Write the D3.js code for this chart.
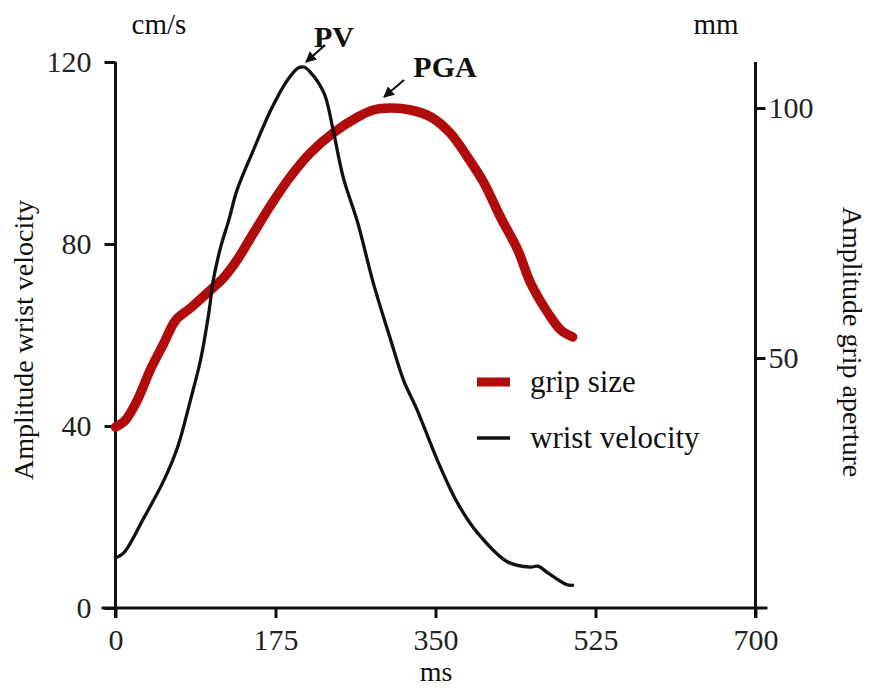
<!DOCTYPE html>
<html>
<head>
<meta charset="utf-8">
<script src="https://cdn.jsdelivr.net/npm/d3@7"></script>
<style>
  body { margin: 0; background: #fff; }
  svg text { font-family: "Liberation Serif", "Times New Roman", serif; fill: #111; }
</style>
</head>
<body>
<script>
// size of the figure
var width = 869;
var height = 689;

// wrist velocity (cm/s, left axis)
var velocityTime = [0, 9, 31, 53, 68, 82, 93, 102, 107, 115, 124, 133, 151, 170, 188, 200, 206, 213, 228, 238, 249, 265, 282, 301, 315, 330, 352, 374, 396, 429, 454, 462, 473, 494, 500];
var velocity = [11, 12.1, 19.8, 28.1, 35.4, 45.7, 54.5, 64.8, 72.1, 79.3, 85.3, 91.9, 100.7, 109.5, 116, 118.7, 118.9, 117.8, 113.2, 105.1, 94.7, 84.6, 71.4, 58.9, 50.1, 43.5, 32.5, 23.1, 16.5, 10.1, 9.0, 9.2, 7.7, 5.1, 5.0];

// grip size (mm, right axis)
var gripTime = [0, 11, 24, 38, 53, 66, 82, 104, 118, 133, 151, 170, 191, 213, 238, 265, 282, 301, 323, 345, 366, 385, 403, 421, 440, 454, 473, 487, 500];
var grip = [36.2, 37.6, 41.6, 47.6, 53, 57.6, 60, 63.6, 66, 69.6, 75, 80.6, 86.2, 91, 95, 98.2, 99.6, 100, 99.6, 98.2, 95, 90.2, 85, 78.2, 71.6, 65, 59, 55.6, 54.2];

// tick labels
var timeTicks = [0, 175, 350, 525, 700];
var velocityTicks = [0, 40, 80, 120];
var gripTicks = [50, 100];

var legendText = ["grip size", "wrist velocity"];
var red = "#b00c0c";

var svg = d3.select("body")
  .append("svg")
  .attr("width", width)
  .attr("height", height);

// scales
var x = d3.scaleLinear().domain([0, 700]).range([115.5, 755.5]);
var yLeft = d3.scaleLinear().domain([0, 120]).range([608, 62]);
var yRight = d3.scaleLinear().domain([0, 109.2]).range([608, 62]);

// axis lines, drawn a bit past the ends like the original
svg.append("line")
  .attr("x1", x(0) - 14).attr("x2", x(700) + 12)
  .attr("y1", yLeft(0)).attr("y2", yLeft(0))
  .style("stroke", "#111").style("stroke-width", 3);
svg.append("line")
  .attr("x1", x(0)).attr("x2", x(0))
  .attr("y1", yLeft(120)).attr("y2", yLeft(0) + 10)
  .style("stroke", "#111").style("stroke-width", 3);
svg.append("line")
  .attr("x1", x(700)).attr("x2", x(700))
  .attr("y1", yLeft(120)).attr("y2", yLeft(0) + 10)
  .style("stroke", "#111").style("stroke-width", 3);

// bottom axis
var xAxis = svg.append("g")
  .attr("transform", "translate(0," + yLeft(0) + ")")
  .call(d3.axisBottom(x).tickValues(timeTicks).tickSize(10).tickSizeOuter(0).tickPadding(11));

// left axis
var leftAxis = svg.append("g")
  .attr("transform", "translate(" + x(0) + ",0)")
  .call(d3.axisLeft(yLeft).tickValues(velocityTicks).tickSize(11).tickSizeOuter(0).tickPadding(13));

// right axis
var rightAxis = svg.append("g")
  .attr("transform", "translate(" + x(700) + ",0)")
  .call(d3.axisRight(yRight).tickValues(gripTicks).tickSize(10).tickSizeOuter(0).tickPadding(3));

[xAxis, leftAxis, rightAxis].forEach(function(g) {
  g.select(".domain").remove();
  g.selectAll(".tick line").style("stroke", "#111").style("stroke-width", 3);
  g.selectAll(".tick text")
    .style("font-family", "Liberation Serif, serif")
    .style("font-size", "30px")
    .style("fill", "#222");
});

// units and axis titles
svg.append("text").attr("x", 159).attr("y", 34).attr("text-anchor", "middle")
  .style("font-size", "29px").text("cm/s");
svg.append("text").attr("x", 716).attr("y", 34).attr("text-anchor", "middle")
  .style("font-size", "29px").text("mm");
svg.append("text").attr("x", 436).attr("y", 681).attr("text-anchor", "middle")
  .style("font-size", "28px").text("ms");
svg.append("text")
  .attr("transform", "translate(33,340) rotate(-90)")
  .attr("text-anchor", "middle")
  .style("font-size", "28px").text("Amplitude wrist velocity");
svg.append("text")
  .attr("transform", "translate(843,342) rotate(90)")
  .attr("text-anchor", "middle")
  .style("font-size", "28px").text("Amplitude grip aperture");

// lines
var velocityLine = d3.line()
  .x(function(d, i) { return x(velocityTime[i]); })
  .y(function(d) { return yLeft(d); })
  .curve(d3.curveCatmullRom.alpha(0.5));

var gripLine = d3.line()
  .x(function(d, i) { return x(gripTime[i]); })
  .y(function(d) { return yRight(d); })
  .curve(d3.curveCatmullRom.alpha(0.5));

svg.append("path")
  .datum(grip)
  .attr("d", gripLine)
  .style("fill", "none")
  .style("stroke", red)
  .style("stroke-width", 9.5)
  .style("stroke-linecap", "round");

svg.append("path")
  .datum(velocity)
  .attr("d", velocityLine)
  .style("fill", "none")
  .style("stroke", "#111")
  .style("stroke-width", 3.3)
  .style("stroke-linecap", "round");

// arrow head
svg.append("defs").append("marker")
  .attr("id", "head")
  .attr("viewBox", "0 0 10 10")
  .attr("refX", 9).attr("refY", 5)
  .attr("markerWidth", 5).attr("markerHeight", 5)
  .attr("orient", "auto")
  .append("path")
  .attr("d", "M0,0L10,5L0,10z")
  .style("fill", "#111");

// PV and PGA labels
svg.append("line")
  .attr("x1", 325).attr("y1", 45).attr("x2", 306).attr("y2", 62)
  .style("stroke", "#111").style("stroke-width", 2.2)
  .attr("marker-end", "url(#head)");
svg.append("text").attr("x", 334).attr("y", 47).attr("text-anchor", "middle")
  .style("font-size", "30px").style("font-weight", "bold").text("PV");

svg.append("line")
  .attr("x1", 404).attr("y1", 80).attr("x2", 384).attr("y2", 97)
  .style("stroke", "#111").style("stroke-width", 2.2)
  .attr("marker-end", "url(#head)");
svg.append("text").attr("x", 445).attr("y", 77).attr("text-anchor", "middle")
  .style("font-size", "30px").style("font-weight", "bold").text("PGA");

// legend
var legend = svg.selectAll(".legend")
  .data(legendText)
  .enter()
  .append("g")
  .attr("class", "legend")
  .attr("transform", function(d, i) { return "translate(477," + (382 + i * 56) + ")"; });
legend.append("line")
  .attr("x1", 0).attr("x2", 33)
  .style("stroke", function(d, i) { return i == 0 ? red : "#111"; })
  .style("stroke-width", function(d, i) { return i == 0 ? 9 : 3.5; });
legend.append("text")
  .attr("x", 53)
  .attr("y", 10)
  .style("font-size", "31px")
  .text(function(d) { return d; });
</script>
</body>
</html>
